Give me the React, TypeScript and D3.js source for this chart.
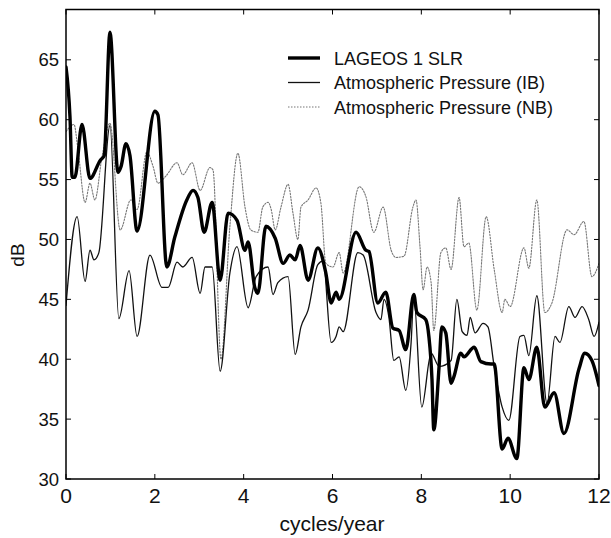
import React from "react";
import * as d3 from "d3";

const W = 611;
const H = 538;

const xTicks = [0, 2, 4, 6, 8, 10, 12];
const yTicks = [30, 35, 40, 45, 50, 55, 60, 65];

const legendLabels = ["LAGEOS 1 SLR", "Atmospheric Pressure (IB)", "Atmospheric Pressure (NB)"];

const slrFreq = [0.00,0.09,0.14,0.20,0.36,0.54,0.77,0.86,0.99,1.17,1.24,1.35,1.44,1.60,2.00,2.07,2.27,2.45,2.72,2.86,2.97,3.11,3.29,3.47,3.65,3.85,4.03,4.10,4.25,4.32,4.50,4.71,4.89,5.04,5.16,5.27,5.45,5.67,5.85,5.97,6.08,6.15,6.53,6.75,6.82,7.02,7.20,7.36,7.50,7.65,7.83,7.90,8.10,8.17,8.24,8.28,8.40,8.46,8.55,8.67,8.73,8.89,8.96,9.19,9.34,9.57,9.64,9.82,9.95,10.15,10.31,10.42,10.60,10.78,10.99,11.21,11.55,11.68,11.84,12.00];
const slrDb = [64.4,60.2,55.2,55.2,59.6,55.1,56.6,57.0,67.3,55.6,56.1,58.0,57.0,50.7,60.7,60.4,47.7,50.2,53.3,54.1,53.5,50.6,53.1,46.6,52.2,51.6,49.1,49.8,46.0,45.5,51.1,50.1,48.0,48.7,48.3,49.5,46.6,49.3,47.2,44.7,45.6,45.0,50.6,49.1,49.0,44.7,45.6,42.6,42.4,40.8,45.4,43.9,43.3,41.9,38.3,34.1,39.4,42.7,42.2,38.0,38.5,40.5,40.2,41.0,39.8,39.6,39.6,32.5,33.4,31.7,39.3,38.3,41.0,36.0,37.2,33.8,39.2,40.5,39.9,37.8];

const ibFreq = [0.00,0.25,0.43,0.54,0.63,0.74,0.99,1.19,1.42,1.60,1.89,2.16,2.30,2.50,2.63,2.84,3.02,3.13,3.29,3.47,3.69,3.85,4.10,4.28,4.55,4.66,4.77,5.00,5.16,5.29,5.45,5.67,5.79,5.97,6.08,6.15,6.24,6.57,6.69,6.98,7.09,7.16,7.27,7.38,7.50,7.65,7.77,7.83,8.01,8.22,8.40,8.67,8.80,8.92,9.03,9.10,9.21,9.39,9.50,9.64,9.82,9.97,10.22,10.31,10.42,10.60,10.83,11.01,11.12,11.32,11.46,11.62,11.77,11.89,12.00];
const ibDb = [44.5,51.9,46.5,49.1,48.3,48.9,59.5,43.4,47.4,41.9,48.7,46.0,46.0,48.1,47.7,48.5,45.5,47.7,47.7,39.0,47.2,49.4,44.3,46.9,47.7,45.4,46.4,46.9,40.4,42.7,44.1,47.9,48.2,41.4,41.9,42.7,42.3,48.9,48.7,43.9,43.3,45.0,43.5,39.9,40.2,37.4,41.4,45.2,36.0,40.5,39.4,39.9,45.0,42.3,42.0,43.5,42.2,43.0,42.7,39.4,36.0,34.9,41.9,42.0,40.3,45.3,36.3,41.9,41.4,44.4,43.5,44.4,43.3,41.9,43.1];

const nbFreq = [0.00,0.18,0.27,0.43,0.54,0.65,0.81,0.99,1.22,1.46,1.60,1.82,1.96,2.07,2.25,2.50,2.63,2.84,3.02,3.24,3.31,3.49,3.69,3.87,4.03,4.16,4.32,4.43,4.55,4.62,4.71,4.84,5.00,5.11,5.22,5.29,5.45,5.63,5.74,5.85,6.01,6.15,6.24,6.60,6.75,6.93,7.14,7.32,7.43,7.61,7.81,7.88,7.97,8.04,8.13,8.22,8.28,8.44,8.55,8.67,8.85,8.96,9.07,9.25,9.46,9.64,9.82,9.88,10.00,10.31,10.42,10.60,10.78,10.94,11.28,11.44,11.66,11.84,12.00];
const nbDb = [59.0,59.6,57.5,53.1,54.7,53.3,56.9,59.7,50.8,53.3,52.5,57.3,56.1,54.7,55.3,56.4,55.4,56.4,54.1,56.0,55.8,40.0,51.1,57.2,52.7,50.8,50.6,52.7,53.1,52.5,50.8,52.7,54.6,52.2,50.0,52.7,53.3,54.3,53.0,48.0,47.7,48.9,47.2,54.4,53.6,50.6,52.7,49.1,48.5,48.6,52.7,53.3,49.4,45.8,47.7,46.4,42.4,48.9,49.3,47.5,53.5,49.4,49.7,44.1,51.9,47.5,43.9,45.0,44.4,49.3,47.6,53.3,43.9,44.7,50.8,50.4,51.5,46.9,48.0];

const FONT = "'Liberation Sans', Arial, Helvetica, sans-serif";

export default function App() {
  const x = d3.scaleLinear().domain([0, 12]).range([66, 599]);
  const y = d3.scaleLinear().domain([30, 69.2]).range([479, 9.5]);

  const line = d3
    .line<[number, number]>()
    .x((d) => x(d[0]))
    .y((d) => y(d[1]))
    .curve(d3.curveMonotoneX);

  const zip = (f: number[], v: number[]) => f.map((fx, i) => [fx, v[i]] as [number, number]);

  const [x0, x1] = x.range();
  const [y0, y1] = y.range();

  const legendStyles = [
    { stroke: "#000", width: 3.4, dash: "none" },
    { stroke: "#111", width: 1.3, dash: "none" },
    { stroke: "#777", width: 1.1, dash: "1.5 1.5" },
  ];

  return (
    <svg
      width={W}
      height={H}
      style={{ position: "absolute", left: 0, top: 0, background: "#fff" }}
      fontFamily={FONT}
    >
      <defs>
        <clipPath id="plot">
          <rect x={x0} y={y1} width={x1 - x0} height={y0 - y1} />
        </clipPath>
      </defs>
      <g clipPath="url(#plot)" fill="none" strokeLinejoin="round" strokeLinecap="round">
        <path d={line(zip(nbFreq, nbDb)) || ""} stroke="#777" strokeWidth={1.1} strokeDasharray="1.5 1.5" />
        <path d={line(zip(ibFreq, ibDb)) || ""} stroke="#111" strokeWidth={1.3} />
        <path d={line(zip(slrFreq, slrDb)) || ""} stroke="#000" strokeWidth={3.4} />
      </g>

      {/* frame */}
      <rect x={x0} y={y1} width={x1 - x0} height={y0 - y1} fill="none" stroke="#000" strokeWidth={1.5} />

      {/* x ticks */}
      {xTicks.map((t) => (
        <g key={"x" + t}>
          <line x1={x(t)} x2={x(t)} y1={y0} y2={y0 - 5} stroke="#000" strokeWidth={1} />
          <line x1={x(t)} x2={x(t)} y1={y1} y2={y1 + 5} stroke="#000" strokeWidth={1} />
          <text x={x(t)} y={503} textAnchor="middle" fontSize={21} fill="#111">
            {t}
          </text>
        </g>
      ))}

      {/* y ticks */}
      {yTicks.map((t) => (
        <g key={"y" + t}>
          <line x1={x0} x2={x0 + 5} y1={y(t)} y2={y(t)} stroke="#000" strokeWidth={1} />
          <line x1={x1} x2={x1 - 5} y1={y(t)} y2={y(t)} stroke="#000" strokeWidth={1} />
          <text x={59} y={y(t) + 6.5} textAnchor="end" fontSize={18.5} fill="#111">
            {t}
          </text>
        </g>
      ))}

      {/* axis labels */}
      <text x={332} y={531} textAnchor="middle" fontSize={21} fill="#111">
        cycles/year
      </text>
      <text transform={`translate(24,255) rotate(-90)`} textAnchor="middle" fontSize={19} fill="#111">
        dB
      </text>

      {/* legend */}
      {legendLabels.map((lab, i) => {
        const ly = 58 + i * 24.5;
        const s = legendStyles[i];
        return (
          <g key={lab}>
            <line x1={288} x2={320} y1={ly} y2={ly} stroke={s.stroke} strokeWidth={s.width} strokeDasharray={s.dash} />
            <text x={334} y={ly + 6.5} fontSize={18} fill="#111">
              {lab}
            </text>
          </g>
        );
      })}
    </svg>
  );
}
